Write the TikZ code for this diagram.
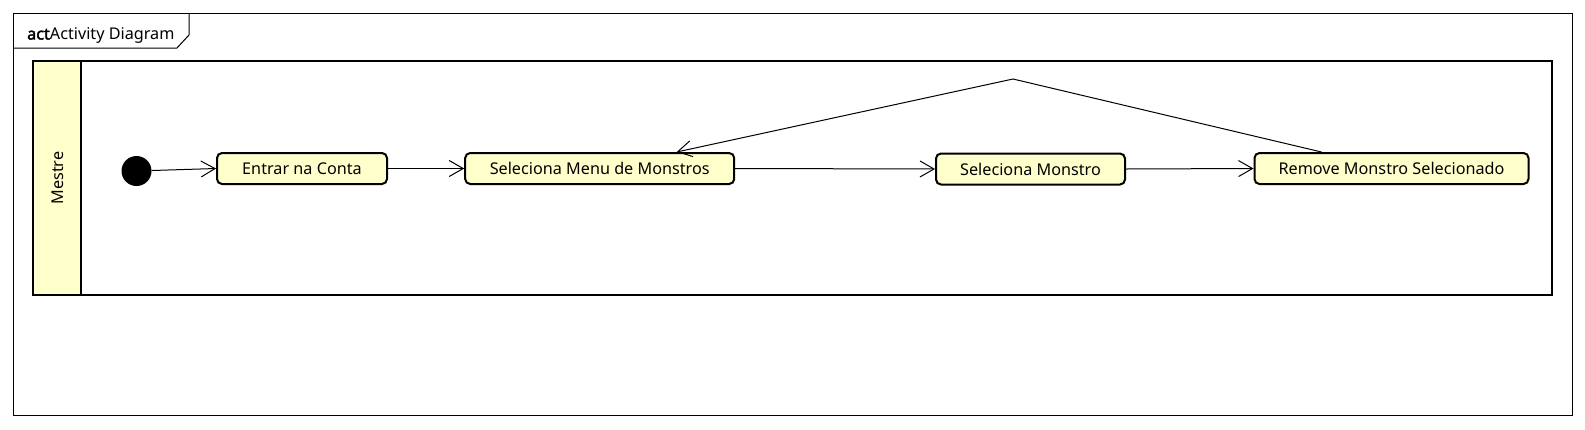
\documentclass[tikz,border=0pt]{standalone}
\usepackage{fontspec}
\setmainfont{Noto Sans}
\newfontfamily\actbold{Noto Sans}[FakeBold = 2.5]
\usetikzlibrary{arrows.meta}
\definecolor{actfill}{RGB}{255,255,204}

\tikzset{
  action/.style = {draw = black, line width = 2pt, rounded corners = 5pt, fill = actfill,
    minimum height = 31pt, inner xsep = 0pt, font = \fontsize{16.2}{19}\selectfont},
  flow/.style = {draw, line width = 1pt, -{Straight Barb[length = 14pt, width = 16pt]}}
}

\begin{document}
\begin{tikzpicture}[x = 1pt, y = -1pt]
\useasboundingbox (0, 0) rectangle (1585, 429);

% frame and tab
\draw [line width = 1pt] (13, 13) rectangle (1572, 415);
\draw [line width = 1pt] (13, 48) -- (177, 48) -- (189, 35) -- (189, 13);
\node [anchor = base west, inner sep = 0pt, font = \fontsize{16.2}{19}\selectfont] (title) at (27, 39.5) {{\actbold act}Activity Diagram};

% swimlane
\draw [line width = 2.5pt] (33, 61) rectangle (1552, 295);
\draw [line width = 2.5pt, fill = actfill] (33, 61) rectangle (81, 295);
\node [rotate = 90, font = \fontsize{16.2}{19}\selectfont] (lane) at (58, 178) {Mestre};

% nodes
\node [circle, fill = black, minimum size = 30pt, inner sep = 0pt] (start) at (136.5, 171) {};
\node [action, minimum width = 170pt] (entrar) at (302, 168.5) {Entrar na Conta};
\node [action, minimum width = 269pt] (menu) at (599.7, 168.5) {Seleciona Menu de Monstros};
\node [action, minimum width = 189pt] (monstro) at (1030.5, 169) {Seleciona Monstro};
\node [action, minimum width = 274pt] (remove) at (1391.5, 168.5) {Remove Monstro Selecionado};
\coordinate (bend) at (1013, 79);

% flows
\path [flow] (start) -- (entrar.west);
\path [flow] (entrar.east) -- (menu.west);
\path [flow] (menu.east) -- (monstro.west);
\path [flow] (monstro.east) -- (remove.west);
\path [flow] ([xshift = -70pt]remove.north) -- (bend) -- ([xshift = 77pt]menu.north);

\end{tikzpicture}
\end{document}
